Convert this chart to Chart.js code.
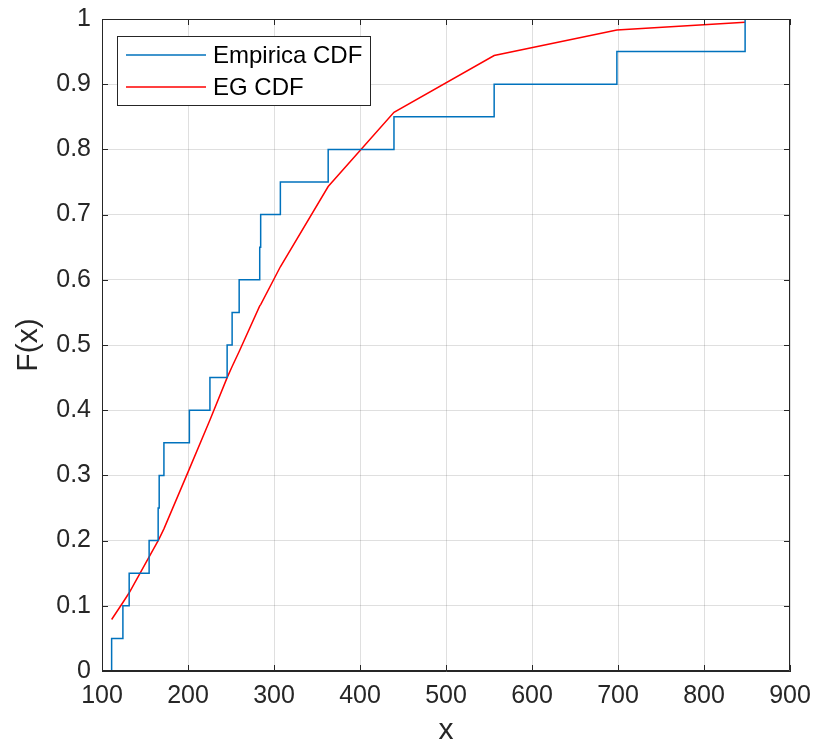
<!DOCTYPE html>
<html>
<head>
<meta charset="utf-8">
<script src="https://cdn.jsdelivr.net/npm/chart.js@4.4.0/dist/chart.umd.min.js"></script>
<style>
  html, body { margin: 0; padding: 0; background: #fff; }
  #wrap { width: 814px; height: 746px; }
</style>
</head>
<body>
<div id="wrap"><canvas id="cdfChart" width="814" height="746"></canvas></div>
<script>
// Empirical CDF: sorted sample values and the step heights
const sampleX = [111.2, 124.3, 131.6, 154.8, 165.3, 166.5, 172.0, 201.6, 225.5, 245.5,
                 251.3, 259.5, 283.4, 284.5, 307.4, 363.0, 439.5, 556.0, 698.7, 847.8];
const empiricalF = [0.05, 0.10, 0.15, 0.20, 0.25, 0.30, 0.35, 0.40, 0.45, 0.50,
                    0.55, 0.60, 0.65, 0.70, 0.75, 0.80, 0.85, 0.90, 0.95, 1.00];

// Fitted EG CDF evaluated at the same sample points
const fittedF = [0.079, 0.105, 0.120, 0.175, 0.200, 0.203, 0.218, 0.310, 0.385, 0.450,
                 0.467, 0.490, 0.560, 0.562, 0.620, 0.743, 0.857, 0.944, 0.983, 0.995];

const xTicks = [100, 200, 300, 400, 500, 600, 700, 800, 900];
const yTicks = [0, 0.1, 0.2, 0.3, 0.4, 0.5, 0.6, 0.7, 0.8, 0.9, 1];

const FONT = "'Liberation Sans', Arial, Helvetica, sans-serif";
const AXIS_COLOR = '#262626';
const GRID_COLOR = 'rgba(38,38,38,0.15)';

// stairs start at F = 0 on the first sample
const empiricalPts = [{ x: sampleX[0], y: 0 }].concat(sampleX.map((x, i) => ({ x: x, y: empiricalF[i] })));
const fittedPts = sampleX.map((x, i) => ({ x: x, y: fittedF[i] }));

// box around the axes, inward ticks and the legend (MATLAB look)
const matlabBox = {
    id: 'matlabBox',
    afterDraw(chart) {
        const ctx = chart.ctx;
        const { left, right, top, bottom } = chart.chartArea;
        const xs = chart.scales.x, ys = chart.scales.y;
        const tl = 6;

        ctx.save();
        ctx.strokeStyle = AXIS_COLOR;
        ctx.lineWidth = 1;
        ctx.beginPath();
        ctx.rect(left + 0.5, top + 0.5, right - left - 1, bottom - top - 1);
        xTicks.forEach(v => {
            const px = Math.round(xs.getPixelForValue(v)) + 0.5;
            ctx.moveTo(px, bottom); ctx.lineTo(px, bottom - tl);
            ctx.moveTo(px, top); ctx.lineTo(px, top + tl);
        });
        yTicks.forEach(v => {
            const py = Math.round(ys.getPixelForValue(v)) + 0.5;
            ctx.moveTo(left, py); ctx.lineTo(left + tl, py);
            ctx.moveTo(right, py); ctx.lineTo(right - tl, py);
        });
        ctx.stroke();

        // legend
        const lx = 117, ly = 36, lw = 253, lh = 69;
        ctx.fillStyle = '#fff';
        ctx.fillRect(lx, ly, lw, lh);
        ctx.strokeStyle = AXIS_COLOR;
        ctx.strokeRect(lx + 0.5, ly + 0.5, lw, lh);
        ctx.font = '24px ' + FONT;
        ctx.textBaseline = 'middle';
        ctx.textAlign = 'left';
        chart.data.datasets.forEach((ds, i) => {
            const y = ly + 19 + i * 32;
            ctx.strokeStyle = ds.borderColor;
            ctx.lineWidth = 1.5;
            ctx.beginPath();
            ctx.moveTo(126, y); ctx.lineTo(206, y);
            ctx.stroke();
            ctx.fillStyle = '#000';
            ctx.fillText(ds.label, 213, y + 1);
        });
        ctx.restore();
    }
};

const ctx = document.getElementById('cdfChart').getContext('2d');
const chart = new Chart(ctx, {
    type: 'line',
    data: {
        datasets: [
            {
                label: 'Empirica CDF',
                data: empiricalPts,
                borderColor: '#0072BD',
                borderWidth: 1.5,
                stepped: 'before',
                pointRadius: 0,
                fill: false
            },
            {
                label: 'EG CDF',
                data: fittedPts,
                borderColor: '#FF0000',
                borderWidth: 1.5,
                tension: 0,
                pointRadius: 0,
                fill: false
            }
        ]
    },
    options: {
        responsive: false,
        animation: false,
        layout: { padding: { top: 19, right: 24, left: 0, bottom: 0 } },
        plugins: {
            legend: { display: false },
            tooltip: { enabled: false }
        },
        scales: {
            x: {
                type: 'linear',
                min: 100,
                max: 900,
                afterFit(scale) {
                    scale.height = 75;
                    scale.paddingLeft = 0;
                    scale.paddingRight = 0;
                },
                afterBuildTicks(scale) { scale.ticks = xTicks.map(v => ({ value: v })); },
                grid: { color: GRID_COLOR, drawTicks: false },
                border: { display: true, color: AXIS_COLOR },
                ticks: {
                    padding: 10,
                    color: AXIS_COLOR,
                    maxRotation: 0,
                    font: { family: FONT, size: 25 }
                },
                title: {
                    display: true,
                    text: 'x',
                    color: AXIS_COLOR,
                    padding: { top: 0, bottom: 0 },
                    font: { family: FONT, size: 30, lineHeight: 1 }
                }
            },
            y: {
                type: 'linear',
                min: 0,
                max: 1,
                afterFit(scale) {
                    scale.width = 102;
                    scale.paddingTop = 0;
                    scale.paddingBottom = 0;
                },
                afterBuildTicks(scale) { scale.ticks = yTicks.map(v => ({ value: v })); },
                grid: { color: GRID_COLOR, drawTicks: false },
                border: { display: true, color: AXIS_COLOR },
                ticks: {
                    padding: 11,
                    color: AXIS_COLOR,
                    font: { family: FONT, size: 25 },
                    callback: v => String(Math.round(v * 10) / 10)
                },
                title: {
                    display: true,
                    text: 'F(x)',
                    color: AXIS_COLOR,
                    padding: { top: 14, bottom: 0 },
                    font: { family: FONT, size: 30, lineHeight: 1 }
                }
            }
        }
    },
    plugins: [matlabBox]
});
</script>
</body>
</html>
